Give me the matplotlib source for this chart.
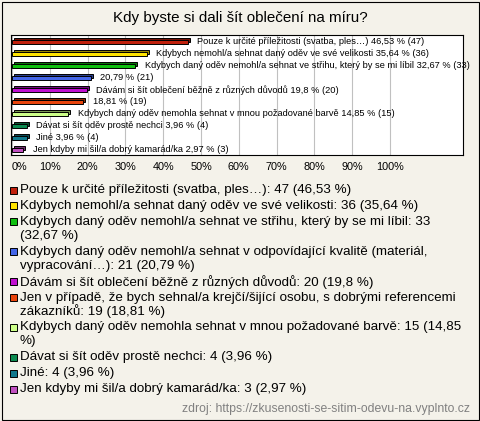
import matplotlib
matplotlib.use("Agg")
import matplotlib.pyplot as plt
import matplotlib.transforms as mtransforms
from matplotlib.patches import Rectangle
import numpy as np

# --- data ---
title = "Kdy byste si dali šít oblečení na míru?"
answers = [
    "Pouze k určité příležitosti (svatba, ples…)",
    "Kdybych nemohl/a sehnat daný oděv ve své velikosti",
    "Kdybych daný oděv nemohl/a sehnat ve střihu, který by se mi líbil",
    "Kdybych daný oděv nemohl/a sehnat v odpovídající kvalitě (materiál, vypracování…)",
    "Dávám si šít oblečení běžně z různých důvodů",
    "Jen v případě, že bych sehnal/a krejčí/šijící osobu, s dobrými referencemi zákazníků",
    "Kdybych daný oděv nemohla sehnat v mnou požadované barvě",
    "Dávat si šít oděv prostě nechci",
    "Jiné",
    "Jen kdyby mi šil/a dobrý kamarád/ka",
]
counts = [47, 36, 33, 21, 20, 19, 15, 4, 4, 3]
percents = [46.53, 35.64, 32.67, 20.79, 19.8, 18.81, 14.85, 3.96, 3.96, 2.97]
name_on_bar = [True, True, True, False, True, False, True, True, True, True]
colors = ["#c0200c", "#ffe400", "#10c010", "#4466e8", "#c010d0",
          "#e8440c", "#ccff88", "#0c8a50", "#10788c", "#c050c0"]
ticks = [0, 10, 20, 30, 40, 50, 60, 70, 80, 90, 100]
tick_labels = [f"{t}%" for t in ticks]
source = "zdroj: https://zkusenosti-se-sitim-odevu-na.vyplnto.cz"

W, H = 480, 421
BG = "#f4f2ea"
FONT = "Liberation Sans"


def fmt(p):
    return f"{p:g}".replace(".", ",")


def darker(c, f=0.6):
    r, g, b = matplotlib.colors.to_rgb(c)
    return (r * f, g * f, b * f)


fig = plt.figure(figsize=(W / 100, H / 100), dpi=100, facecolor=BG)
fig.patches.append(Rectangle((1.5 / W, 1.5 / H), (W - 3) / W, (H - 3) / H,
                             transform=fig.transFigure, fill=False,
                             ec="black", lw=0.8))

fig.text(240 / W, 1 - 18 / H, title, ha="center", va="center",
         fontsize=10.9, family=FONT)

# plot area
ax = fig.add_axes([11 / W, 1 - 155 / H, (463 - 11) / W, 120 / H])
ax.set_facecolor("white")
px = 3.78  # pixels per percent
ax.set_xlim(-1 / px, (463 - 12) / px)
n = len(percents)
y = np.arange(n)
ax.set_ylim(n - 1 + 5 / 12, -7 / 12)

shift = ax.transData + mtransforms.ScaledTranslation(2 / 100, 2 / 100, fig.dpi_scale_trans)
ax.barh(y, percents, height=0.4, color=[darker(c) for c in colors],
        edgecolor="black", linewidth=0.7, transform=shift, zorder=2)
ax.barh(y, percents, height=0.4, color=colors,
        edgecolor="black", linewidth=0.7, zorder=3)

for i, p in enumerate(percents):
    lab = f"{fmt(p)} % ({counts[i]})"
    if name_on_bar[i]:
        lab = answers[i] + " " + lab
    ax.annotate(lab, xy=(p, i), xytext=(6.8, 0), textcoords="offset points",
                va="center", ha="left", fontsize=6.7, family=FONT, zorder=4)

ax.set_xticks(ticks)
ax.set_xticklabels(tick_labels, fontsize=7.8, family=FONT)
ax.get_xticklabels()[0].set_horizontalalignment("left")
ax.set_yticks([])
ax.tick_params(axis="x", length=0, pad=5)
ax.grid(axis="x", color="#c0c0c0", linewidth=0.8, zorder=0)
ax.set_axisbelow(True)
for s in ax.spines.values():
    s.set_linewidth(0.8)

# legend
renderer = fig.canvas.get_renderer()


def text_width(s, size):
    t = fig.text(0, 0, s, fontsize=size, family=FONT)
    w = t.get_window_extent(renderer).width
    t.remove()
    return w


def wrap(s, size, maxw):
    lines, cur = [], ""
    for w in s.split(" "):
        trial = w if not cur else cur + " " + w
        if cur and text_width(trial, size) > maxw:
            lines.append(cur)
            cur = w
        else:
            cur = trial
    lines.append(cur)
    return lines


LSIZE = 9.6
ycur = 190
for i, a in enumerate(answers):
    s = f"{a}: {counts[i]} ({fmt(percents[i])} %)"
    lines = wrap(s, LSIZE, 445)
    fig.patches.append(Rectangle((10 / W, 1 - (ycur + 3.5) / H), 7 / W, 7 / H,
                                 transform=fig.transFigure, fc=colors[i],
                                 ec="black", lw=0.7))
    for j, ln in enumerate(lines):
        fig.text(20 / W, 1 - ycur / H, ln, ha="left", va="center",
                 fontsize=LSIZE, family=FONT)
        if j < len(lines) - 1:
            ycur += 14
    ycur += 15.9

fig.text(470 / W, 1 - 409 / H, source, ha="right", va="center",
         fontsize=8.8, family=FONT, color="#808080")

fig.savefig("out.png", dpi=100, facecolor=BG)
